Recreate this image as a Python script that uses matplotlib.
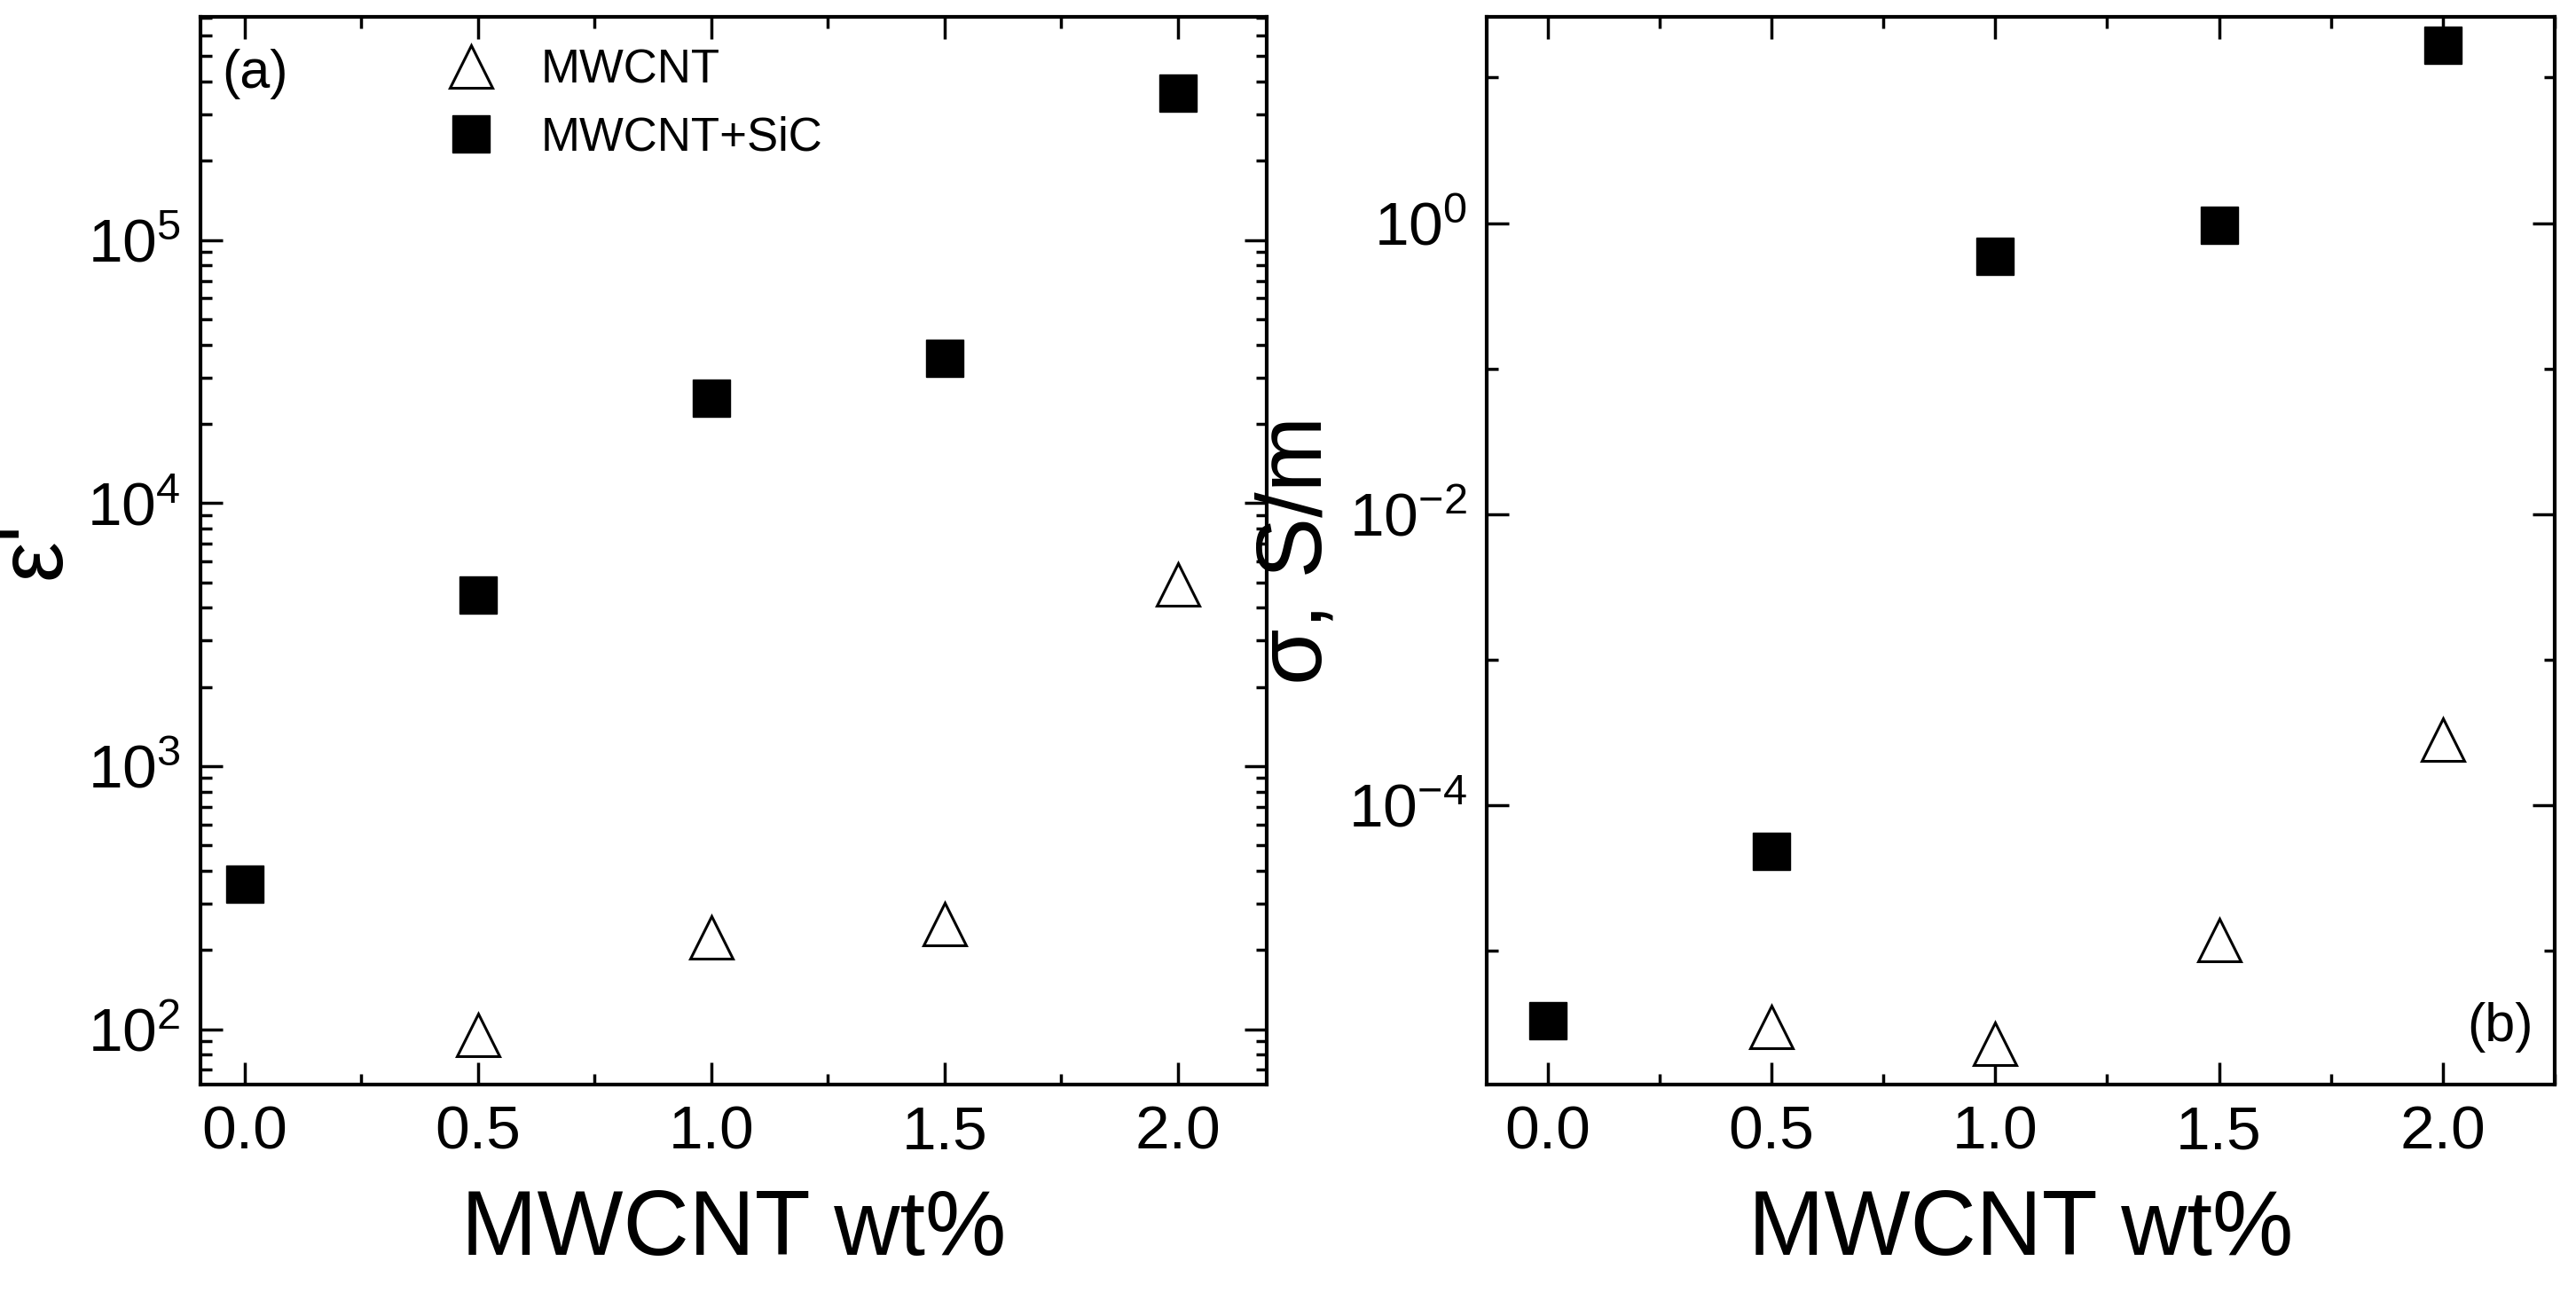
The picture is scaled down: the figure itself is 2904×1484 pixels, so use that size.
import matplotlib
matplotlib.use("Agg")
import matplotlib.pyplot as plt
from matplotlib.ticker import LogLocator, NullFormatter, MultipleLocator, LogFormatterMathtext, FixedLocator

plt.rcParams['font.family'] = ['Liberation Sans', 'DejaVu Sans']
plt.rcParams['mathtext.fontset'] = 'custom'
plt.rcParams['mathtext.rm'] = 'Liberation Sans'

x_mw = [0.5, 1.0, 1.5, 2.0]
eps_mw = [95, 224, 251, 4900]
x_sic = [0.0, 0.5, 1.0, 1.5, 2.0]
eps_sic = [355, 4470, 25100, 35500, 363000]
sig_mw = [2.97e-6, 2.3e-6, 1.18e-5, 2.8e-4]
sig_sic = [3.3e-6, 4.8e-5, 0.59, 0.97, 16.6]
xticks = [0.0, 0.5, 1.0, 1.5, 2.0]

fig = plt.figure(figsize=(29.04, 14.84), dpi=100)
ax1 = fig.add_axes([0.0778, 0.176, 0.4139, 0.8115])
ax2 = fig.add_axes([0.5772, 0.176, 0.4145, 0.8115])

ms = 35
for ax, ymw, ysic in [(ax1, eps_mw, eps_sic), (ax2, sig_mw, sig_sic)]:
    ax.plot(x_mw, ymw, '^', ms=ms, mfc='white', mec='black', mew=2.2, ls='none', label='MWCNT')
    ax.plot(x_sic, ysic, 's', ms=ms*0.85, mfc='black', mec='black', ls='none', label='MWCNT+SiC')
    ax.set_yscale('log')
    ax.set_xticks(xticks)
    ax.set_xticklabels([f"{v:.1f}" for v in xticks])
    ax.xaxis.set_minor_locator(MultipleLocator(0.25))
    ax.tick_params(which='both', direction='in', top=True, right=True, labelsize=50, width=2.5)
    ax.tick_params(which='major', length=18, pad=16)
    ax.tick_params(which='minor', length=9)
    for s in ax.spines.values():
        s.set_linewidth(3)
    ax.set_xlabel('MWCNT wt%', fontsize=74, labelpad=22)

ax1.set_xlim(-0.095, 2.19)
ax2.set_xlim(-0.136, 2.25)

ax1.set_ylim(10**1.79, 10**5.85)
ax1.yaxis.set_major_locator(LogLocator(base=10, numticks=10))
ax1.yaxis.set_minor_locator(LogLocator(base=10, subs=range(2, 10), numticks=50))
ax1.yaxis.set_minor_formatter(NullFormatter())
ax1.set_ylabel("ε'", fontsize=74, labelpad=6)
ax1.text(0.02, 0.97, '(a)', transform=ax1.transAxes, fontsize=44, va='top')
ax1.legend(loc='upper left', bbox_to_anchor=(0.17, 1.01), frameon=False, fontsize=38,
           handletextpad=0.5, labelspacing=0.5)

ax2.set_ylim(10**-5.92, 10**1.42)
ax2.yaxis.set_major_locator(FixedLocator([1e-4, 1e-2, 1e0]))
ax2.yaxis.set_major_formatter(LogFormatterMathtext())
ax2.yaxis.set_minor_locator(FixedLocator([10.0**k for k in range(-6, 2)]))
ax2.yaxis.set_minor_formatter(NullFormatter())
ax2.set_ylabel('σ, S/m', fontsize=74, labelpad=6)
ax2.text(0.98, 0.03, '(b)', transform=ax2.transAxes, fontsize=44, ha='right', va='bottom')

fig.savefig('out.png', dpi=100)
